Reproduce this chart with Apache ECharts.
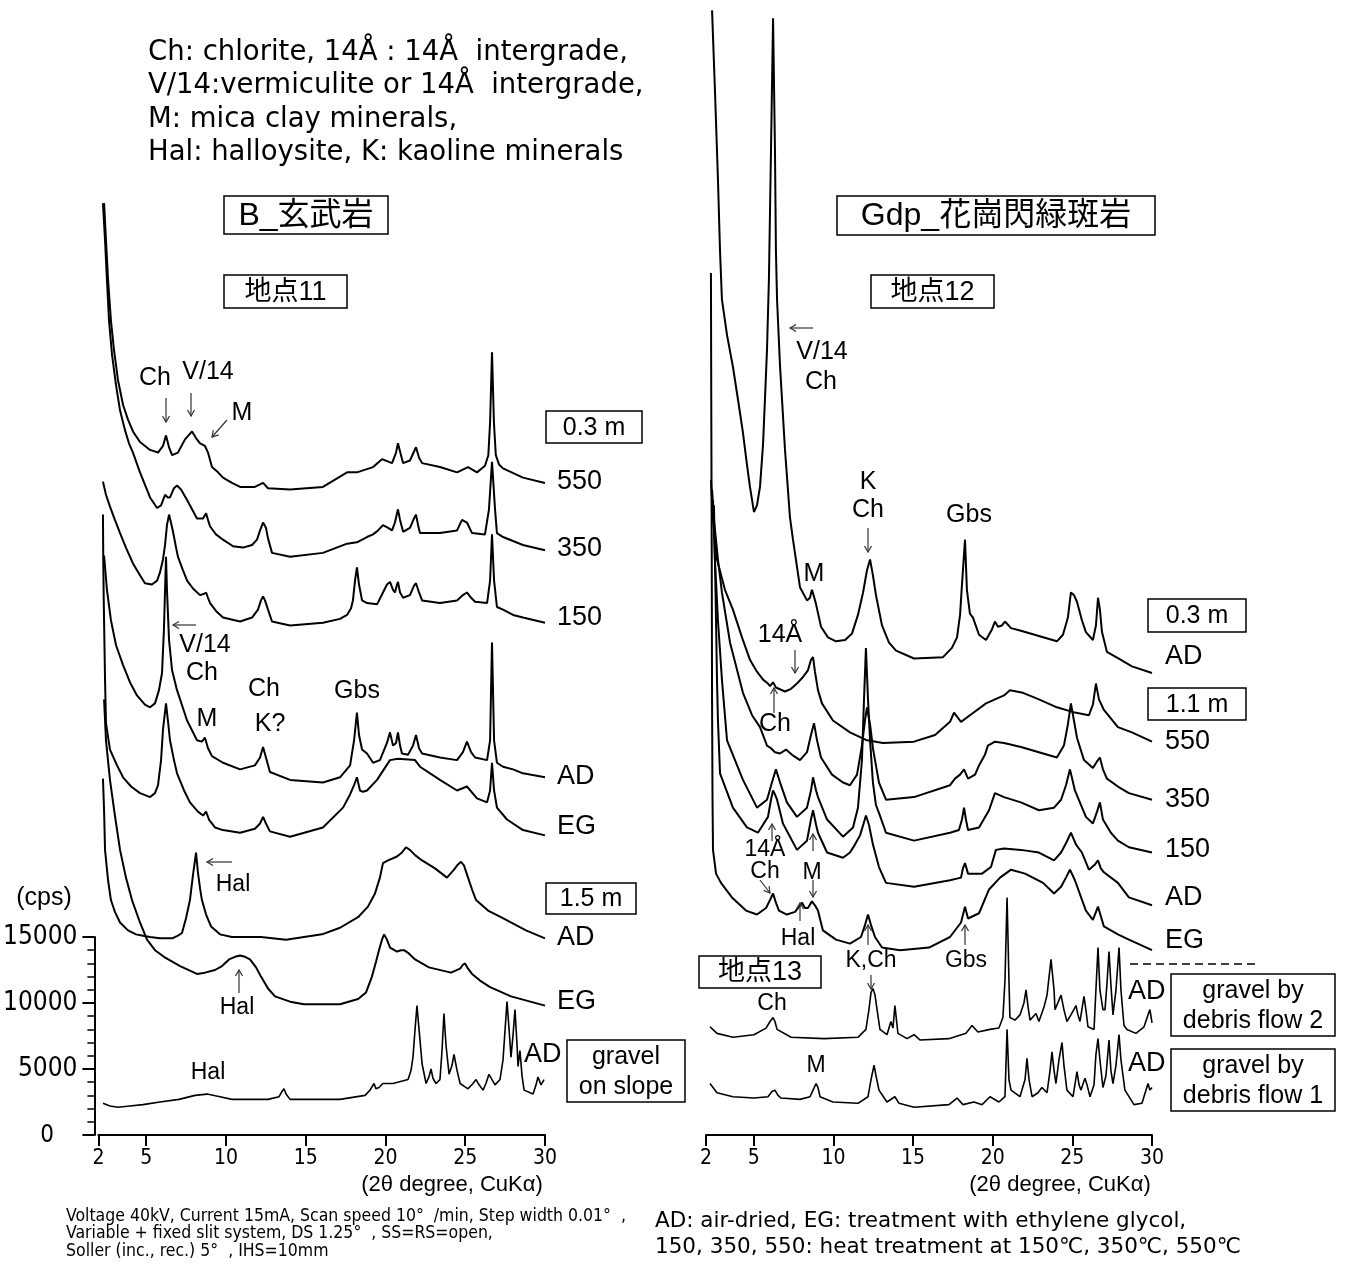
<!DOCTYPE html>
<html><head><meta charset="utf-8">
<script src="https://cdn.jsdelivr.net/npm/echarts@6/dist/echarts.min.js"></script>
<style>html,body{margin:0;padding:0;background:#fff}#c{width:1352px;height:1264px}</style>
</head><body><div id="c"></div>
<script>
// ---- axis ticks ----
const xTicks = [2, 5, 10, 15, 20, 25, 30];
const yTicks = [0, 5000, 10000, 15000];

// ---- B_玄武岩 地点11 (2θ deg, cps as drawn with stacking offset) ----
const B_550 = [[2.38,70600],[2.50,67800],[2.63,64800],[2.81,61700],[3.00,59500],[3.25,57200],[3.57,55300],[3.88,54200],[4.19,53300],[4.63,52500],[5.26,51900],[5.76,51700],[6.07,52200],[6.26,53000],[6.45,52100],[6.64,51500],[7.01,51700],[7.45,52700],[7.89,53300],[8.14,52800],[8.39,52400],[8.70,52200],[8.89,51700],[9.14,50600],[9.52,50200],[9.83,49800],[10.39,49400],[10.90,49100],[11.83,49100],[12.34,49400],[12.65,49000],[14.03,48900],[16.09,49100],[17.60,50200],[18.22,50200],[19.23,50600],[19.79,51200],[20.42,50900],[20.67,51700],[20.79,52400],[20.98,51500],[21.11,50900],[21.54,51100],[21.92,52100],[22.11,51300],[22.30,50900],[23.42,50600],[24.49,50200],[25.18,50600],[25.74,50200],[26.24,50700],[26.45,51500],[26.56,54000],[26.68,59300],[26.80,54000],[26.92,51500],[27.12,50800],[27.37,50500],[28.62,49800],[30.00,49400]];
const B_350 = [[2.31,70600],[2.44,67800],[2.56,64800],[2.69,61700],[2.88,59100],[3.13,56800],[3.38,54900],[3.69,53400],[3.94,52400],[4.19,51700],[4.63,50200],[5.26,48300],[5.70,47500],[5.95,47700],[6.20,48500],[6.38,48300],[6.51,48300],[6.76,49000],[6.95,49200],[7.20,48900],[7.58,48100],[7.89,47400],[8.20,46700],[8.58,46700],[8.77,47100],[8.89,46600],[9.02,46100],[9.39,45500],[9.83,45100],[10.46,44600],[11.08,44500],[11.65,44700],[11.96,45100],[12.15,45800],[12.34,46400],[12.52,46000],[12.65,45200],[12.90,44100],[14.03,43800],[16.09,44100],[17.60,44800],[18.22,44900],[18.85,45300],[19.23,45500],[19.54,45800],[19.85,46200],[20.17,46000],[20.42,45800],[20.60,46400],[20.79,47400],[20.92,46600],[21.11,45700],[21.54,46000],[21.79,46700],[21.92,47000],[22.05,46200],[22.17,45600],[23.42,45600],[24.49,45800],[24.80,46600],[25.11,46400],[25.43,45600],[26.24,45500],[26.49,47400],[26.68,51000],[26.87,47400],[26.99,45600],[27.37,45300],[28.62,44700],[30.00,44300]];
const B_150 = [[2.31,49500],[2.50,48500],[2.75,47600],[3.06,46600],[3.38,45600],[3.75,44500],[4.19,43300],[4.63,42400],[4.94,41800],[5.38,41700],[5.70,42000],[5.88,42600],[6.07,43600],[6.20,44700],[6.32,46200],[6.45,47000],[6.57,46400],[6.70,45700],[6.89,44500],[7.01,43800],[7.32,42800],[7.58,42000],[7.95,41400],[8.39,40900],[8.64,41000],[8.77,41100],[8.89,40700],[9.02,40300],[9.39,39700],[9.83,39200],[10.90,38900],[11.65,39200],[12.02,39800],[12.21,40500],[12.34,40800],[12.46,40500],[12.65,39800],[12.90,38900],[14.03,38600],[16.09,38800],[17.16,39100],[17.60,39400],[17.85,39900],[17.97,40500],[18.10,42000],[18.22,43000],[18.35,41700],[18.54,40500],[18.85,40300],[19.48,40200],[19.85,41100],[20.10,41700],[20.29,41900],[20.48,41300],[20.60,41100],[20.73,41700],[20.79,41900],[20.92,41100],[21.11,40700],[21.54,40900],[21.79,41600],[21.92,41800],[22.11,41100],[22.30,40500],[23.42,40300],[24.49,40500],[24.86,40900],[25.11,41100],[25.37,40700],[25.62,40400],[26.37,40300],[26.56,42000],[26.68,45500],[26.81,42000],[26.99,40000],[27.37,39800],[28.00,39400],[28.62,39200],[30.00,38800]];
const B_AD03 = [[2.38,43900],[2.56,41300],[2.81,39000],[3.13,37100],[3.57,35600],[4.00,34300],[4.44,33300],[4.94,32600],[5.26,32400],[5.57,32700],[5.82,33700],[6.01,35000],[6.13,38300],[6.20,41300],[6.26,43800],[6.32,41300],[6.45,37500],[6.64,35200],[6.95,33700],[7.58,31400],[8.20,29900],[8.51,29800],[8.70,30100],[8.89,29300],[9.14,28700],[9.83,28200],[10.90,27700],[11.83,28000],[12.15,28600],[12.34,29400],[12.52,28600],[12.77,27500],[14.03,26900],[16.09,26700],[17.16,27100],[17.79,28000],[18.04,29900],[18.22,32000],[18.35,30300],[18.54,29200],[18.85,28900],[19.23,28200],[19.66,28400],[20.10,29700],[20.29,30500],[20.48,29500],[20.67,29700],[20.79,30500],[20.92,29500],[21.04,28900],[21.42,28800],[21.73,29500],[21.92,30300],[22.11,29300],[22.30,28900],[23.42,28600],[24.49,28400],[24.86,29000],[25.11,29800],[25.37,29000],[25.62,28600],[26.37,28400],[26.56,29900],[26.68,37300],[26.81,29900],[26.99,28200],[27.37,27900],[28.00,27700],[28.62,27400],[30.00,27100]];
const B_EG03 = [[2.31,47000],[2.33,43600],[2.36,40500],[2.40,37500],[2.44,34500],[2.50,31200],[2.75,29200],[3.19,28000],[3.57,27100],[4.07,26400],[4.63,25900],[5.26,25600],[5.57,25900],[5.76,26500],[5.95,28400],[6.07,30700],[6.26,32700],[6.38,31400],[6.51,29900],[6.76,28400],[6.95,27400],[7.39,26100],[7.76,25200],[8.26,24500],[8.58,24200],[8.77,24500],[8.95,23900],[9.33,23300],[9.83,23100],[10.90,22900],[11.83,23200],[12.15,23600],[12.34,24100],[12.52,23600],[12.77,23000],[14.03,22600],[16.09,23300],[17.35,24800],[17.79,25800],[18.04,26500],[18.22,27100],[18.41,26100],[18.60,26000],[18.85,26100],[19.48,26900],[20.29,28400],[20.79,28500],[21.86,28400],[22.17,27900],[23.42,26900],[24.49,26100],[25.11,26400],[25.74,25500],[26.37,25200],[26.56,26100],[26.68,28200],[26.81,26100],[26.99,24800],[27.62,23900],[28.62,23100],[30.00,22700]];
const B_AD15 = [[2.31,27000],[2.38,24600],[2.44,21600],[2.63,19300],[2.81,17800],[3.06,16900],[3.38,16100],[3.88,15500],[4.38,15200],[4.82,15100],[5.26,15000],[5.88,14900],[6.64,14900],[7.01,15100],[7.26,15300],[7.51,16400],[7.76,17800],[7.95,19700],[8.14,21400],[8.26,19900],[8.39,18700],[8.51,17800],[8.77,16700],[9.08,15800],[9.64,15200],[10.39,15000],[12.21,15000],[13.78,14800],[16.03,15200],[17.16,15700],[18.29,16500],[18.91,17300],[19.35,18300],[19.66,19500],[19.85,20600],[20.17,20800],[20.73,21100],[21.04,21400],[21.29,21800],[21.54,21600],[21.86,21200],[22.30,20800],[23.11,20200],[23.86,19500],[24.30,20100],[24.55,20500],[24.74,20700],[24.93,20400],[25.18,19500],[25.43,18600],[25.68,17800],[26.43,17000],[27.24,16500],[28.81,15500],[30.00,14900]];
const B_EG15 = [[2.38,33000],[2.50,29900],[2.75,26900],[3.06,24200],[3.38,21600],[3.75,19500],[4.13,17800],[4.63,16100],[5.07,14800],[5.57,14000],[6.13,13500],[7.14,12800],[8.20,12200],[8.70,12300],[9.33,12500],[9.77,12800],[10.21,13300],[10.58,13500],[10.90,13600],[11.21,13500],[11.52,13300],[11.90,12700],[12.21,12000],[12.65,11100],[13.09,10500],[14.03,10100],[14.90,9900],[17.16,9900],[18.29,10300],[18.79,10800],[19.16,12000],[19.41,13100],[19.60,14000],[19.79,14800],[19.92,15200],[20.10,14800],[20.29,14200],[20.73,13900],[20.98,14000],[21.17,14000],[21.42,13800],[21.86,13300],[22.73,12700],[24.11,12300],[24.68,12600],[24.86,12900],[24.99,13000],[25.18,12600],[25.43,12200],[25.93,11700],[26.56,11200],[27.87,10500],[30.00,9800]];
const B_gravel = [[2.31,2400],[2.75,2200],[3.25,2100],[4.00,2200],[4.82,2300],[5.88,2500],[7.07,2700],[8.08,3000],[8.83,3100],[9.64,2900],[10.39,2700],[12.65,2700],[13.34,2900],[13.53,3300],[13.65,3500],[13.78,3100],[14.03,2700],[15.15,2700],[17.16,2700],[18.73,3000],[19.04,3400],[19.29,3900],[19.41,3500],[19.60,3600],[19.85,3900],[20.48,3900],[21.42,4200],[21.61,4900],[21.73,5900],[21.86,8000],[21.98,9800],[22.11,8000],[22.30,5400],[22.55,3900],[22.73,4400],[22.86,5000],[22.98,4300],[23.17,3900],[23.42,4200],[23.55,6400],[23.67,9200],[23.80,6800],[23.99,4600],[24.18,5300],[24.30,6100],[24.49,4900],[24.68,3900],[25.18,3500],[25.49,3900],[25.68,4200],[25.87,3800],[26.12,3400],[26.30,3900],[26.49,4600],[26.68,4200],[26.87,3800],[27.18,4200],[27.37,5700],[27.50,8000],[27.62,10100],[27.75,8000],[27.87,5900],[28.00,7600],[28.12,9500],[28.25,6800],[28.31,5200],[28.43,6400],[28.56,4500],[28.69,3400],[29.25,3100],[29.44,3800],[29.56,4400],[29.75,3800],[29.94,4200]];

// ---- Gdp_花崗閃緑斑岩 地点12 / 地点13 ----
const G_AD03 = [[2.38,85200],[2.56,79200],[2.75,72400],[2.88,67000],[3.00,63300],[3.32,60600],[3.69,58200],[4.01,55700],[4.32,53200],[4.57,50800],[4.76,49100],[5.01,47200],[5.20,47700],[5.39,49100],[5.58,52300],[5.70,55700],[5.83,59500],[5.95,64800],[6.08,74600],[6.21,84600],[6.33,74600],[6.39,67000],[6.46,63300],[6.65,58200],[6.96,51900],[7.27,46800],[7.46,45100],[7.90,41500],[8.34,40500],[8.53,40700],[8.65,41300],[8.78,40800],[8.91,40200],[9.22,38500],[9.66,37700],[10.16,37400],[10.73,37500],[11.17,38000],[11.54,39400],[11.86,41100],[12.11,42800],[12.30,43600],[12.48,42400],[12.67,40900],[13.05,38600],[13.49,37300],[13.93,36700],[15.06,36100],[16.88,36200],[17.44,36900],[17.76,37700],[17.95,39400],[18.07,41700],[18.26,45100],[18.38,41300],[18.57,39500],[18.76,39200],[19.14,37900],[19.58,37500],[19.95,38300],[20.14,38900],[20.33,38500],[20.58,38600],[20.77,38900],[21.15,38400],[21.77,38200],[22.90,37800],[24.03,37400],[24.41,37900],[24.72,39200],[24.91,41100],[25.10,40900],[25.29,40400],[25.60,39000],[25.85,38100],[26.29,37500],[26.48,38600],[26.61,40700],[26.73,39800],[26.86,38100],[27.17,36600],[28.05,36000],[28.74,35500],[30.00,35000]];
const G_550 = [[2.31,49600],[2.44,46600],[2.69,43600],[3.19,41300],[3.69,39800],[4.26,37700],[4.76,36000],[5.20,35100],[5.58,34500],[5.89,34200],[6.02,34000],[6.21,34300],[6.39,33900],[6.96,33600],[7.34,33800],[7.71,34200],[8.09,34700],[8.40,35200],[8.59,36000],[8.72,36200],[8.84,35100],[9.03,33700],[9.28,32700],[9.97,31400],[11.04,30500],[12.11,29900],[13.11,29700],[15.06,29800],[16.38,30300],[17.32,31300],[17.57,32000],[17.82,31600],[18.01,31300],[18.57,31800],[19.58,32700],[20.71,33300],[21.08,33700],[21.90,33500],[22.90,33000],[24.03,32400],[25.16,32000],[26.04,31800],[26.29,32600],[26.48,34200],[26.67,33000],[26.98,32200],[27.86,30900],[28.74,30500],[30.00,29800]];
const G_350 = [[2.38,48900],[2.50,46600],[2.75,43600],[3.00,41100],[3.51,37300],[4.32,33500],[4.89,31800],[5.39,30900],[5.83,29500],[6.08,29300],[6.33,29000],[6.65,28900],[7.02,29200],[7.40,28800],[7.90,28400],[8.34,29000],[8.59,30300],[8.78,31200],[8.97,29900],[9.22,28600],[9.91,27300],[10.60,26700],[11.04,26500],[11.48,27300],[11.79,29500],[11.98,31400],[12.11,32400],[12.30,31100],[12.48,29300],[12.61,28400],[12.86,26700],[13.30,25400],[15.06,25600],[17.32,26500],[17.63,27000],[17.95,27300],[18.20,27700],[18.45,27000],[18.89,27300],[19.14,28000],[19.51,28800],[19.70,29500],[20.14,29800],[20.71,29700],[21.77,29400],[22.90,29000],[24.03,28600],[24.47,29500],[24.72,31100],[24.91,32700],[25.10,31400],[25.29,30100],[25.73,28400],[26.29,27800],[26.55,28300],[26.73,28600],[26.92,27700],[27.17,27000],[27.86,26400],[28.55,25900],[30.00,25400]];
const G_150 = [[2.44,48100],[2.56,43600],[2.75,39000],[3.00,34500],[3.32,29900],[4.32,26900],[5.20,24800],[5.83,25400],[6.14,26700],[6.39,27700],[6.65,26700],[7.08,25200],[7.71,24100],[8.34,24800],[8.59,26100],[8.72,27100],[8.91,26100],[9.03,25600],[9.60,23900],[10.60,22600],[11.23,23300],[11.54,24800],[11.79,28400],[11.92,33000],[12.04,36900],[12.17,33000],[12.30,29900],[12.48,26700],[12.67,25000],[12.92,24200],[13.30,22900],[15.06,22300],[17.32,22900],[17.88,23100],[18.07,23900],[18.20,24800],[18.32,23900],[18.45,23100],[19.14,23300],[19.77,24600],[20.14,25900],[20.71,25600],[21.77,25200],[22.90,24600],[23.85,24800],[24.29,25400],[24.60,26500],[24.85,27700],[25.16,26100],[25.85,24100],[26.29,23600],[26.55,24500],[26.73,25200],[26.92,23900],[27.42,22900],[27.86,22300],[28.55,21800],[30.00,21400]];
const G_AD11 = [[2.50,47700],[2.56,43600],[2.63,39000],[2.69,34500],[2.75,31400],[2.88,27400],[3.69,24800],[4.57,23300],[5.26,22900],[5.89,24100],[6.08,25400],[6.21,26100],[6.33,25800],[6.46,25400],[6.83,23600],[7.71,21600],[8.34,22300],[8.59,23900],[8.72,24600],[8.91,23500],[9.03,22900],[9.60,21400],[10.60,21000],[11.04,21400],[11.35,22000],[11.67,22700],[11.92,23700],[12.04,24200],[12.23,23500],[12.48,22000],[12.86,20300],[13.30,19100],[15.06,18800],[17.32,19300],[18.01,19500],[18.13,20200],[18.26,20600],[18.45,19800],[19.33,19800],[19.89,20300],[20.20,21600],[20.71,21700],[21.77,21600],[22.90,21400],[23.85,20800],[24.29,21400],[24.60,22100],[24.91,22900],[25.23,22000],[25.60,21400],[26.04,20100],[26.42,20500],[26.61,20800],[26.79,20200],[26.98,19900],[27.86,19100],[28.55,18000],[30.00,17400]];
const G_EG11 = [[2.31,65300],[2.33,55700],[2.36,44300],[2.38,33000],[2.41,25400],[2.44,21600],[2.63,19800],[2.94,19100],[3.63,18000],[4.51,17000],[5.20,16700],[5.77,17200],[6.02,17800],[6.21,18300],[6.39,17600],[6.58,17000],[7.08,16700],[7.59,16900],[7.84,17300],[8.03,17600],[8.21,17200],[8.40,17200],[8.65,17700],[8.84,17400],[9.03,17000],[9.34,15500],[10.16,14800],[11.04,14500],[11.73,15000],[11.98,15900],[12.17,16700],[12.36,15900],[12.61,15000],[13.05,14200],[14.18,14000],[16.00,14200],[17.32,15000],[18.01,16100],[18.26,17300],[18.45,16400],[18.57,16300],[19.14,16800],[19.77,18600],[20.46,19500],[21.15,20100],[22.03,19800],[23.16,19100],[23.85,18300],[24.29,18800],[24.60,19500],[24.85,20100],[25.16,19300],[25.85,17000],[26.29,16300],[26.61,17300],[26.98,15800],[27.86,15200],[28.55,14800],[30.00,14000]];
const G_flow2 = [[2.25,8200],[2.69,7700],[3.69,7400],[5.01,7600],[5.77,8100],[6.02,8600],[6.21,8900],[6.33,8600],[6.46,8000],[7.34,7400],[9.41,7300],[11.54,7400],[12.04,8000],[12.23,9500],[12.36,10800],[12.48,11100],[12.61,10600],[12.74,9500],[12.92,8000],[13.36,7600],[13.61,8600],[13.74,8100],[13.86,9800],[14.05,7700],[14.62,7300],[15.06,7600],[15.43,7200],[17.25,7300],[18.32,7700],[18.70,8300],[19.07,7800],[19.83,8000],[20.39,8100],[20.64,8900],[20.77,11700],[20.90,18000],[21.02,11700],[21.08,8900],[21.40,8700],[21.71,9100],[21.96,10000],[22.09,11000],[22.21,9800],[22.34,8700],[22.72,9200],[22.90,8600],[23.22,9700],[23.41,10600],[23.66,13300],[23.85,11000],[23.91,9500],[24.29,10600],[24.47,9500],[24.66,8600],[24.91,9100],[25.23,9800],[25.35,9100],[25.48,8600],[25.73,10500],[25.85,9500],[25.98,8200],[26.36,8000],[26.48,11000],[26.61,14200],[26.73,11000],[26.92,9500],[27.05,9500],[27.17,11400],[27.30,13900],[27.42,11400],[27.55,9100],[27.74,11000],[27.93,14200],[28.05,11000],[28.24,8300],[28.43,8000],[28.99,7700],[29.50,8200],[29.75,9100],[29.87,9500],[30.00,8500]];
const G_flow1 = [[2.25,3900],[2.69,3200],[3.69,2900],[5.01,2800],[5.89,2900],[6.14,3300],[6.33,3400],[6.52,3000],[6.71,2800],[7.90,2700],[8.53,2900],[8.72,3400],[8.91,3900],[9.03,3600],[9.16,2900],[9.97,2500],[11.54,2400],[12.17,2900],[12.36,4200],[12.55,5300],[12.67,4500],[12.86,3400],[13.36,2500],[13.86,2900],[14.12,2400],[15.06,2100],[17.25,2300],[17.76,2800],[18.13,2300],[18.82,2500],[19.33,2300],[19.83,2900],[20.39,2500],[20.77,2900],[20.90,8000],[21.02,4200],[21.15,3400],[21.71,2900],[22.03,4200],[22.15,5800],[22.28,4200],[22.47,2900],[22.84,3200],[23.09,3600],[23.41,3200],[23.60,4900],[23.72,6300],[23.85,4900],[23.97,3900],[24.16,5700],[24.35,7000],[24.47,5300],[24.66,3400],[25.04,2900],[25.29,4800],[25.42,3800],[25.54,3400],[25.79,4300],[25.92,3800],[26.11,2900],[26.36,3800],[26.48,6100],[26.61,7300],[26.73,5700],[26.92,3600],[27.11,4500],[27.30,7200],[27.42,4900],[27.55,3900],[27.74,5300],[27.93,7600],[28.05,5700],[28.30,3400],[28.87,2300],[29.37,2400],[29.75,3900],[29.87,3400],[30.00,3600]];

// ---- rendering ----
const FONT = '"Liberation Sans","Noto Sans CJK JP",sans-serif';
const WIDE = '"DejaVu Sans","Noto Sans CJK JP",sans-serif';
const NARROW = '"Liberation Sans Narrow","DejaVu Sans Condensed","Liberation Sans",sans-serif';

// plotting area: y axis 0..15000 spans 198 px (937..1135); trace grids extend that scale to the top
const AXIS_TOP = 937, AXIS_H = 198;
const FULL_MAX = 15000 * (AXIS_TOP + AXIS_H) / AXIS_H;

function line(data, g, w) {
  return {type:'line', data:data, xAxisIndex:g, yAxisIndex:g, symbol:'none', showSymbol:false,
    clip:false, silent:true, animation:false, lineStyle:{color:'#000', width:w||2}};
}
function T(x, y, s, size, align, fam) {
  return {type:'text', x:x, y:y, z:100, silent:true,
    style:{text:s, font:size+'px '+(fam||FONT), fill:'#000', align:align||'center', verticalAlign:'middle',
      textAlign:align||'center', textVerticalAlign:'middle', lineHeight:Math.round(size*1.18)}};
}
function Box(x, y, w, h, s, size) {
  return [{type:'rect', z:100, silent:true, shape:{x:x, y:y, width:w, height:h}, style:{fill:'#fff', stroke:'#000', lineWidth:1.5}},
    T(x + w/2, y + h/2 + 1, s, size)];
}
function A(x1, y1, x2, y2) {
  const dx = x2-x1, dy = y2-y1, L = Math.hypot(dx, dy), ux = dx/L, uy = dy/L, h = 6, w = 3.5;
  const p1 = [x2 - h*ux + w*uy, y2 - h*uy - w*ux], p2 = [x2 - h*ux - w*uy, y2 - h*uy + w*ux];
  return [{type:'line', z:100, silent:true, shape:{x1:x1, y1:y1, x2:x2, y2:y2}, style:{stroke:'#333', lineWidth:1.2}},
    {type:'polyline', z:100, silent:true, shape:{points:[p1, [x2, y2], p2]}, style:{stroke:'#333', lineWidth:1.2, fill:null}}];
}

const graphics = [].concat(
  T(148, 53, 'Ch: chlorite, 14Å : 14Å  intergrade,', 27.5, 'left', WIDE),
  T(148, 86, 'V/14:vermiculite or 14Å  intergrade,', 27.5, 'left', WIDE),
  T(148, 120, 'M: mica clay minerals,', 27.5, 'left', WIDE),
  T(148, 153, 'Hal: halloysite, K: kaoline minerals', 27.5, 'left', WIDE),
  Box(224, 196, 164, 38, 'B_玄武岩', 32),
  Box(224, 275, 123, 33, '地点11', 27),
  Box(837, 196, 318, 39, 'Gdp_花崗閃緑斑岩', 32),
  Box(871, 275, 123, 33, '地点12', 27),
  Box(546, 411, 96, 32, '0.3 m', 25),
  Box(546, 883, 90, 31, '1.5 m', 25),
  Box(1148, 599, 98, 33, '0.3 m', 25),
  Box(1148, 688, 98, 32, '1.1 m', 25),
  Box(699, 956, 122, 32, '地点13', 27),
  Box(1171, 974, 164, 62, 'gravel by\ndebris flow 2', 25),
  Box(1171, 1049, 164, 62, 'gravel by\ndebris flow 1', 25),
  Box(567, 1040, 118, 62, 'gravel\non slope', 25),
  // trace labels
  T(557, 482, '550', 27, 'left'), T(557, 549, '350', 27, 'left'), T(557, 618, '150', 27, 'left'),
  T(557, 777, 'AD', 27, 'left'), T(557, 827, 'EG', 27, 'left'), T(557, 938, 'AD', 27, 'left'),
  T(557, 1002, 'EG', 27, 'left'), T(524, 1055, 'AD', 27, 'left'),
  T(1165, 657, 'AD', 27, 'left'), T(1165, 742, '550', 27, 'left'), T(1165, 800, '350', 27, 'left'),
  T(1165, 850, '150', 27, 'left'), T(1165, 898, 'AD', 27, 'left'), T(1165, 941, 'EG', 27, 'left'),
  T(1128, 992, 'AD', 27, 'left'), T(1128, 1064, 'AD', 27, 'left'),
  // peak labels left
  T(155, 378, 'Ch', 25), T(208, 372, 'V/14', 25), T(242, 413, 'M', 25),
  T(205, 645, 'V/14', 25), T(202, 673, 'Ch', 25), T(207, 719, 'M', 25),
  T(264, 689, 'Ch', 25), T(270, 724, 'K?', 25), T(357, 691, 'Gbs', 25),
  T(233, 885, 'Hal', 23), T(237, 1008, 'Hal', 23), T(208, 1073, 'Hal', 23),
  // peak labels right
  T(822, 352, 'V/14', 25), T(821, 382, 'Ch', 25), T(868, 482, 'K', 25), T(868, 510, 'Ch', 25),
  T(969, 515, 'Gbs', 25), T(814, 574, 'M', 25), T(780, 635, '14Å', 25), T(775, 724, 'Ch', 25),
  T(765, 850, '14Å', 23), T(765, 872, 'Ch', 23), T(812, 873, 'M', 23), T(798, 939, 'Hal', 23),
  T(871, 961, 'K,Ch', 23), T(966, 961, 'Gbs', 23), T(772, 1004, 'Ch', 23), T(816, 1066, 'M', 23),
  // arrows
  A(166, 398, 166, 422), A(191, 393, 191, 416), A(227, 420, 212, 437), A(196, 625, 173, 625),
  A(232, 862, 207, 862), A(239, 993, 239, 970),
  A(813, 328, 790, 328), A(868, 528, 868, 552), A(795, 650, 795, 673), A(774, 713, 774, 688),
  A(772, 841, 772, 824), A(813, 851, 813, 834), A(760, 880, 770, 893), A(813, 880, 813, 897),
  A(800, 921, 800, 903), A(868, 945, 868, 925), A(871, 975, 871, 989), A(965, 945, 965, 925),
  [{type:'line', z:100, silent:true, shape:{x1:1130, y1:964, x2:1258, y2:964}, style:{stroke:'#000', lineWidth:1.5, lineDash:[8, 5]}}],
  // axis texts
  T(44, 898, '(cps)', 25), T(47, 1136, '0', 24, 'center', NARROW),
  T(452, 1185, '(2θ degree, CuKα)', 22), T(1060, 1185, '(2θ degree, CuKα)', 22),
  T(66, 1216, 'Voltage 40kV, Current 15mA, Scan speed 10°  /min, Step width 0.01°  ,', 17.5, 'left', NARROW),
  T(66, 1233, 'Variable + fixed slit system, DS 1.25°  , SS=RS=open,', 17.5, 'left', NARROW),
  T(66, 1251, 'Soller (inc., rec.) 5°  , IHS=10mm', 17.5, 'left', NARROW),
  T(655, 1221, 'AD: air-dried, EG: treatment with ethylene glycol,', 21.5, 'left', WIDE),
  T(655, 1247, '150, 350, 550: heat treatment at 150℃, 350℃, 550℃', 21.5, 'left', WIDE)
);

function xAx(g) {
  return {gridIndex:g, type:'value', min:2, max:30,
    axisLine:{show:true, onZero:false, lineStyle:{color:'#000', width:2}},
    axisTick:{show:true, customValues:xTicks, length:11, lineStyle:{color:'#000', width:2}},
    axisLabel:{customValues:xTicks, color:'#000', fontSize:21, fontFamily:NARROW, margin:13},
    splitLine:{show:false}};
}
function hiddenX(g) { return {gridIndex:g, type:'value', min:2, max:30, show:false, splitLine:{show:false}}; }
function hiddenY(g) { return {gridIndex:g, type:'value', min:0, max:FULL_MAX, show:false, splitLine:{show:false}}; }

const chart = echarts.init(document.getElementById('c'), null, {renderer:'canvas'});
chart.setOption({
  animation:false,
  backgroundColor:'#fff',
  grid:[
    {left:98, top:AXIS_TOP, width:447, height:AXIS_H},
    {left:706, top:AXIS_TOP, width:446, height:AXIS_H},
    {left:98, top:0, width:447, height:AXIS_TOP + AXIS_H},
    {left:706, top:0, width:446, height:AXIS_TOP + AXIS_H}
  ],
  xAxis:[xAx(0), xAx(1), hiddenX(2), hiddenX(3)],
  yAxis:[
    {gridIndex:0, type:'value', min:0, max:15000, interval:5000, offset:4,
      axisLine:{show:true, onZero:false, lineStyle:{color:'#000', width:2}},
      axisTick:{show:true, length:12, lineStyle:{color:'#000', width:2}},
      minorTick:{show:true, splitNumber:5, length:7, lineStyle:{color:'#000', width:1.5}},
      axisLabel:{color:'#000', fontSize:26, fontFamily:NARROW, margin:17, formatter:function(v){return v === 0 ? '' : String(v);}},
      splitLine:{show:false}, minorSplitLine:{show:false}},
    {gridIndex:1, type:'value', min:0, max:15000, show:false, splitLine:{show:false}},
    hiddenY(2), hiddenY(3)
  ],
  series:[
    line(B_550, 2), line(B_350, 2), line(B_150, 2), line(B_AD03, 2), line(B_EG03, 2),
    line(B_AD15, 2), line(B_EG15, 2), line(B_gravel, 2, 1.6),
    line(G_AD03, 3), line(G_550, 3), line(G_350, 3), line(G_150, 3), line(G_AD11, 3), line(G_EG11, 3),
    line(G_flow2, 3, 1.6), line(G_flow1, 3, 1.6)
  ],
  graphic:graphics
});
</script>
</body></html>
